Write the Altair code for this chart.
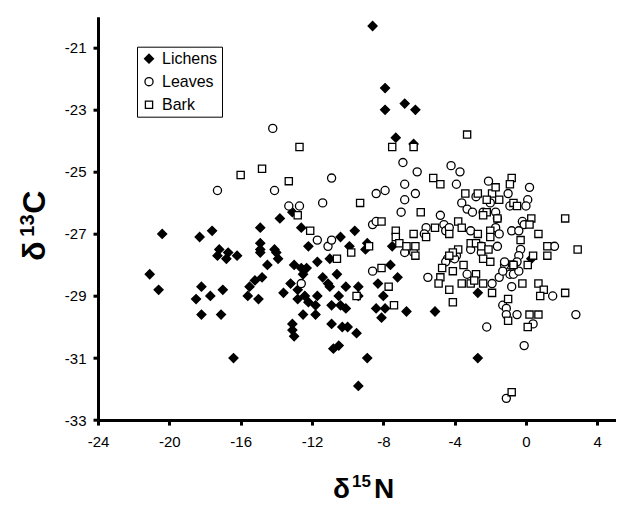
import pandas as pd
import altair as alt

alt.data_transformers.disable_max_rows()

# values (delta15N, delta13C)
lichens_x = [-20.4, -18.3, -17.6, -14.9, -13.8, -12.6, -12.2, -14.9, -14.9, -14.9, -14.1, -17.2, -16.7, -16.2,
             -17.3, -16.8, -8.6, -7.9, -7.9, -6.8, -6.2, -7.3, -6.3, -10.4, -9.6, -8.9, -9.9, -9.0, -7.5, -11.7,
             -11.0, 0.3, -14.0, -13.9, -14.5, -21.1, -20.6, -18.2, -17.0, -18.5, -17.7, -14.8, -15.2, -15.5,
             -15.6, -15.0, -18.2, -17.1, -16.4, -13.0, -12.6, -12.3, -12.5, -10.6, -11.4, -11.1, -11.0, -10.1,
             -9.4, -8.3, -7.2, -7.6, -8.0, -13.2, -12.8, -13.6, -12.4, -11.7, -12.2, -12.8, -11.8, -10.9, -10.5,
             -10.4, -10.1, -8.4, -7.9, -6.7, -12.5, -11.8, -9.4, -8.1, -13.1, -13.1, -13.0, -10.9, -10.3, -10.0,
             -9.5, -10.8, -10.5, -8.9, -9.4, -2.7, -5.1, -2.7, -13.1]
lichens_y = [-27.0, -27.1, -26.9, -26.8, -26.5, -26.8, -27.4, -27.3, -27.5, -27.6, -27.5, -27.5, -27.6, -27.7,
             -27.7, -27.8, -20.3, -22.3, -23.0, -22.8, -23.0, -23.9, -24.1, -27.1, -26.9, -27.3, -27.4, -27.5,
             -27.4, -27.9, -27.8, -27.8, -27.6, -27.8, -28.0, -28.3, -28.8, -28.7, -28.8, -29.1, -29.0, -28.4,
             -28.5, -28.7, -29.0, -29.1, -29.6, -29.6, -31.0, -28.0, -28.1, -28.1, -28.3, -28.3, -28.4, -28.6,
             -28.7, -28.7, -28.7, -28.6, -28.4, -28.0, -29.0, -28.6, -28.8, -28.9, -29.0, -29.0, -29.2, -29.1,
             -29.3, -29.3, -29.0, -29.3, -29.4, -29.4, -29.4, -29.5, -29.6, -29.6, -29.0, -29.7, -29.9, -30.1,
             -30.3, -29.9, -30.0, -30.0, -30.2, -30.7, -30.6, -31.0, -31.9, -28.9, -29.5, -31.0, -26.3]

leaves_x = [-14.2, -17.3, -14.1, -13.3, -12.7, -11.7, -10.9, -11.4, -11.1, -10.9, -12.6, -6.9, -6.1, -6.8, -7.9,
            -8.4, -6.8, -6.2, -7.0, -4.2, -3.7, -3.9, -2.1, -4.8, -3.6, -3.3, -3.0, -4.6, -4.5, -4.3, -5.6, -5.7,
            -1.0, -0.9, 0.2, 0.1, 0.0, -2.4, -1.7, -1.6, -0.2, -0.1, -0.8, -0.4, -1.7, -1.5, -3.1, 1.6, -0.3,
            -0.4, -8.6, -8.4, -6.8, -6.3, -3.1, -2.5, -1.6, -2.5, -3.9, -4.4, -4.5, -4.0, -0.5, -0.9, -1.2, -0.7,
            -1.5, -5.5, -3.3, -1.9, -0.9, -0.7, -0.4, -0.8, -1.3, -1.1, -1.1, -0.5, 0.4, 1.5, -2.2, -0.1, -1.1,
            2.8, -8.6, -1.3, -1.2, -2.8, -2.0]
leaves_y = [-23.6, -25.6, -25.6, -26.1, -26.1, -27.2, -25.2, -26.0, -27.4, -27.2, -28.6, -24.7, -25.0, -25.4,
            -25.6, -25.7, -25.9, -25.7, -26.3, -24.8, -25.0, -25.4, -25.3, -26.4, -26.0, -26.2, -26.3, -26.7,
            -26.9, -26.8, -26.8, -27.0, -25.7, -26.1, -25.5, -25.9, -26.1, -26.3, -26.3, -26.5, -26.6, -26.7,
            -26.9, -26.9, -26.8, -27.0, -26.9, -27.4, -27.5, -27.7, -26.7, -26.6, -27.6, -27.6, -27.5, -27.4,
            -27.4, -27.6, -27.7, -27.8, -27.9, -27.8, -27.9, -28.0, -28.0, -28.0, -28.4, -28.4, -28.3, -28.6,
            -28.3, -28.3, -28.2, -28.7, -29.3, -29.4, -29.6, -29.6, -29.9, -29.0, -30.0, -30.6, -32.3, -29.6,
            -28.2, -28.2, -27.9, -25.8, -26.0]

bark_x = [-16.0, -14.8, -13.3, -12.7, -12.8, -12.1, -7.5, -6.3, -3.3, -9.3, -8.1, -5.9, -5.2, -4.8, -3.4, -2.7,
          -1.9, -1.7, -2.2, -1.5, -0.8, -0.9, -0.7, -0.5, -2.2, -1.6, -2.4, -3.8, -3.6, -5.1, -4.3, -5.6, -6.3,
          -7.3, -7.3, -7.1, -8.8, -9.8, -10.6, -6.7, -6.2, -6.2, -3.8, -4.1, -4.3, -3.1, -2.7, -2.8, -2.5, -2.1,
          -2.0, -2.0, -0.3, 0.3, 0.2, 0.7, 1.2, 1.2, 2.2, 2.9, 0.4, -2.4, -2.0, -8.1, -7.7, -9.5, -7.4, -4.7,
          -4.8, -4.9, -4.3, -4.1, -4.1, -3.5, -2.8, -3.6, -3.1, -2.9, -2.4, -1.9, 0.1, -0.2, -1.0, -1.0, 0.2,
          0.7, 0.1, 0.7, 1.0, 0.8, 2.2, 5.4, 5.4, -0.8, -0.7]
bark_y = [-25.1, -24.9, -25.3, -24.2, -26.4, -26.9, -24.2, -24.2, -23.8, -26.0, -26.6, -26.3, -25.2, -25.4, -25.7,
          -25.7, -25.7, -25.5, -25.9, -25.9, -25.2, -25.4, -26.0, -26.1, -26.3, -26.5, -26.4, -26.6, -26.8,
          -26.8, -27.0, -27.1, -27.0, -26.9, -27.1, -27.3, -27.4, -27.6, -27.8, -27.4, -27.4, -27.7, -27.5,
          -27.6, -27.7, -27.3, -27.0, -27.3, -27.4, -27.5, -26.9, -27.1, -27.2, -26.5, -26.7, -27.0, -27.4,
          -27.7, -26.5, -27.5, -27.7, -27.8, -27.9, -28.1, -28.7, -29.0, -29.3, -28.1, -28.4, -28.6, -28.8,
          -29.2, -28.2, -28.0, -28.3, -28.6, -28.6, -28.5, -28.6, -28.9, -28.0, -28.6, -29.1, -29.8, -29.6,
          -29.6, -30.0, -28.6, -28.8, -29.0, -28.9, -28.4, -28.6, -32.1, -28.0]

groups = ['Lichens', 'Leaves', 'Bark']
x_ticks = [-24, -20, -16, -12, -8, -4, 0, 4]
y_ticks = [-33, -31, -29, -27, -25, -23, -21]

df = pd.concat([
    pd.DataFrame({'n15': lichens_x, 'c13': lichens_y, 'type': 'Lichens'}),
    pd.DataFrame({'n15': leaves_x, 'c13': leaves_y, 'type': 'Leaves'}),
    pd.DataFrame({'n15': bark_x, 'c13': bark_y, 'type': 'Bark'}),
], ignore_index=True)
df['order'] = range(len(df))

font = 'Liberation Sans'
one = pd.DataFrame({'k': [0]})

points = alt.Chart(df).mark_point(filled=True, strokeWidth=1.3, opacity=1, clip=True).encode(
    x=alt.X('n15:Q', title=None,
            scale=alt.Scale(domain=[-24, 5.05], nice=False, zero=False),
            axis=alt.Axis(values=x_ticks, labelExpr="'' + datum.value", grid=False,
                          labelPadding=9, labelFlush=False)),
    y=alt.Y('c13:Q', title=None,
            scale=alt.Scale(domain=[-33, -20], nice=False, zero=False),
            axis=alt.Axis(values=y_ticks, labelExpr="'' + datum.value", grid=False,
                          labelPadding=7, labelFlush=False)),
    shape=alt.Shape('type:N', title=None,
                    scale=alt.Scale(domain=groups, range=['diamond', 'circle', 'square']),
                    legend=alt.Legend(orient='none', legendX=39, legendY=30)),
    fill=alt.Fill('type:N', title=None,
                  scale=alt.Scale(domain=groups, range=['black', 'white', 'white'])),
    stroke=alt.Stroke('type:N', title=None,
                      scale=alt.Scale(domain=groups, range=['black', 'black', 'black'])),
    size=alt.Size('type:N', title=None,
                  scale=alt.Scale(domain=groups, range=[80, 52, 40])),
    order='order:Q',
)


def title_piece(txt, size, x, y, angle=0):
    return alt.Chart(one).mark_text(
        text=txt, font=font, fontSize=size, fontWeight='bold', color='black',
        align='left', baseline='alphabetic', angle=angle
    ).encode(x=alt.value(x), y=alt.value(y))


# delta 13C (rotated) and delta 15N axis titles with raised isotope numbers
y_title = [title_piece('δ', 32, -53, 244, 270), title_piece('13', 20, -64, 220, 270),
           title_piece('C', 32, -53, 197, 270)]
x_title = [title_piece('δ', 28, 235, 481), title_piece('15', 17, 254, 470),
           title_piece('N', 28, 276, 481)]

chart = alt.layer(points, *y_title, *x_title).properties(
    width=518,
    height=403.4,
    autosize=alt.AutoSizeParams(type='none'),
    padding={'left': 90, 'top': 8.7, 'right': 0, 'bottom': 86},
).configure_view(
    strokeOpacity=0
).configure_axis(
    domainColor='black', domainWidth=3, tickColor='black', tickWidth=3, tickSize=5,
    labelFont=font, labelFontSize=15, labelColor='black',
).configure_legend(
    strokeColor='black', strokeWidth=1, fillColor='white', padding=4,
    labelFont=font, labelFontSize=16, labelColor='black', labelOffset=5,
    rowPadding=7, symbolStrokeWidth=1.3,
)

chart.save("out.html", embed_options={"renderer": "svg", "actions": False})
